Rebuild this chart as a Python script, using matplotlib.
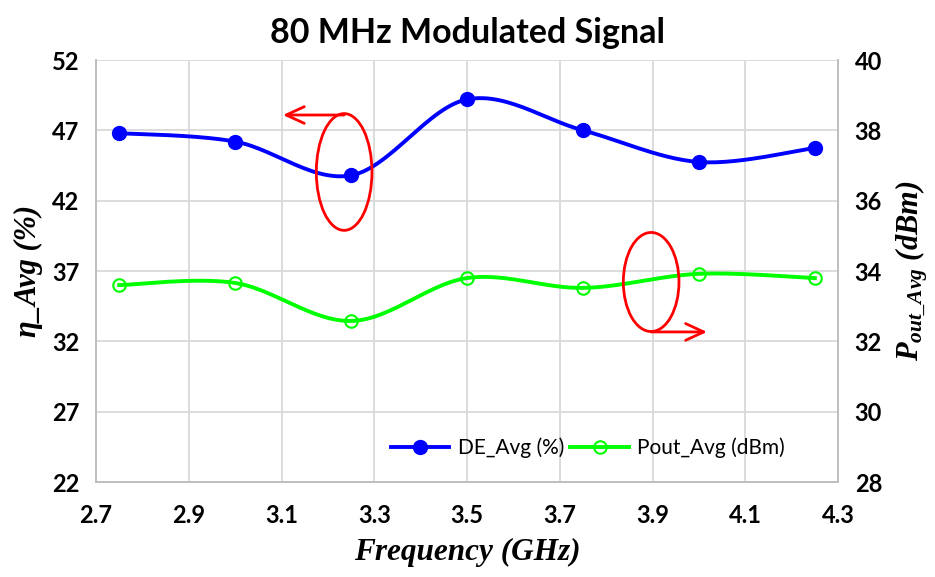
import numpy as np
import matplotlib
matplotlib.use("Agg")
import matplotlib.pyplot as plt
from matplotlib.patches import Ellipse
from matplotlib.lines import Line2D

freq = [2.75, 3.0, 3.25, 3.5, 3.75, 4.0, 4.25]
de_avg = [46.8, 46.2, 43.8, 49.2, 47.0, 44.75, 45.75]
pout_avg = [33.6, 33.66, 32.58, 33.8, 33.52, 33.92, 33.8]

x_ticks = [2.7, 2.9, 3.1, 3.3, 3.5, 3.7, 3.9, 4.1, 4.3]
left_ticks = [22, 27, 32, 37, 42, 47, 52]
right_ticks = [28, 30, 32, 34, 36, 38, 40]

plt.rcParams['mathtext.fontset'] = 'custom'
plt.rcParams['mathtext.it'] = 'Liberation Serif:italic:bold'
plt.rcParams['mathtext.rm'] = 'Liberation Serif:italic:bold'


# excel style smoothed line (bezier, control pts = p1 + (p2-p0)/6)
def smooth(x, y, n=30):
	x = np.asarray(x, float)
	y = np.asarray(y, float)
	xs, ys = [], []
	for i in range(len(x) - 1):
		p0 = (x[max(i - 1, 0)], y[max(i - 1, 0)])
		p1 = (x[i], y[i])
		p2 = (x[i + 1], y[i + 1])
		p3 = (x[min(i + 2, len(x) - 1)], y[min(i + 2, len(x) - 1)])
		c1 = (p1[0] + (p2[0] - p0[0]) / 6, p1[1] + (p2[1] - p0[1]) / 6)
		c2 = (p2[0] - (p3[0] - p1[0]) / 6, p2[1] - (p3[1] - p1[1]) / 6)
		t = np.linspace(0, 1, n)
		for k in range(2):
			b = ((1 - t) ** 3 * p1[k] + 3 * (1 - t) ** 2 * t * c1[k]
				 + 3 * (1 - t) * t ** 2 * c2[k] + t ** 3 * p2[k])
			(xs if k == 0 else ys).append(b)
	return np.concatenate(xs), np.concatenate(ys)


fig = plt.figure(figsize=(9.35, 5.77), dpi=100)
ax = fig.add_axes([0.1027, 0.1646, 0.7936, 0.7314])
ax2 = ax.twinx()

tick_font = dict(family='Lato', weight='bold', size=17)
blue = '#0000ff'
green = '#00ff00'

sx, sy = smooth(freq, de_avg)
ax.plot(sx, sy, color=blue, lw=2.8, zorder=3)
ax.plot(freq, de_avg, 'o', color=blue, ms=10, zorder=4)

sx, sy = smooth(freq, pout_avg)
ax2.plot(sx, sy, color=green, lw=2.8, zorder=3)
ax2.plot(freq, pout_avg, 'o', mfc='none', mec=green, mew=1.5, ms=9, zorder=4)

ax.set_xlim(2.7, 4.3)
ax.set_ylim(22, 52)
ax2.set_ylim(28, 40)
ax.set_xticks(x_ticks)
ax.set_xticklabels(['%.1f' % v for v in x_ticks], fontdict=tick_font)
ax.set_yticks(left_ticks)
ax.set_yticklabels([str(v) for v in left_ticks], fontdict=tick_font)
ax2.set_yticks(right_ticks)
ax2.set_yticklabels([str(v) for v in right_ticks], fontdict=tick_font)

ax.grid(True, color='#d9d9d9', lw=1.3)
ax.set_axisbelow(True)
for a in (ax, ax2):
	a.tick_params(length=0)
	for s in a.spines.values():
		s.set_color('#bfbfbf')
		s.set_linewidth(1.3)
	a.spines['top'].set_visible(False)
ax.tick_params(axis='x', pad=16)
ax.tick_params(axis='y', pad=12)
ax2.tick_params(axis='y', pad=12)

ax.set_xlabel('Frequency (GHz)', family='Liberation Serif', style='italic',
			  weight='bold', size=22.5, labelpad=8)
ax.set_ylabel('η_Avg (%)', family='Liberation Serif', style='italic',
			  weight='bold', size=22, labelpad=6)
ax2.set_ylabel(r'$P_{out\_Avg}\ (dBm)$', size=22, labelpad=8)
ax.set_title('80 MHz Modulated Signal', family='Lato', weight='bold',
			 size=24.5, pad=12)

# red ellipses + arrows
red = '#ff0000'
ax2.add_patch(Ellipse((3.235, 44.04), 0.12, 8.3, fill=False, ec=red, lw=2,
					  transform=ax.transData, zorder=5))
ax2.add_patch(Ellipse((3.897, 36.22), 0.12, 7.04, fill=False, ec=red, lw=2,
					  transform=ax.transData, zorder=5))
arrow = dict(arrowstyle='->,head_length=1.3,head_width=0.6',
			 color=red, lw=2, shrinkA=0, shrinkB=0)
ax2.annotate('', xy=(3.103, 48.09), xytext=(3.235, 48.09),
			 xycoords=ax.transData, textcoords=ax.transData,
			 arrowprops=arrow, zorder=5)
ax2.annotate('', xy=(4.0175, 32.67), xytext=(3.897, 32.67),
			 xycoords=ax.transData, textcoords=ax.transData,
			 arrowprops=arrow, zorder=5)

handles = [Line2D([], [], color=blue, lw=2.8, marker='o', ms=10),
		   Line2D([], [], color=green, lw=2.8, marker='o', mfc='none',
				  mec=green, mew=1.5, ms=9)]
ax2.legend(handles, ['DE_Avg (%)', 'Pout_Avg (dBm)'], loc='center',
		   bbox_to_anchor=(0.663, 0.081), ncol=2, frameon=False,
		   prop=dict(family='Lato', size=15), handlelength=2.8,
		   columnspacing=0.3, handletextpad=0.4)

fig.savefig('out.png', dpi=100)
